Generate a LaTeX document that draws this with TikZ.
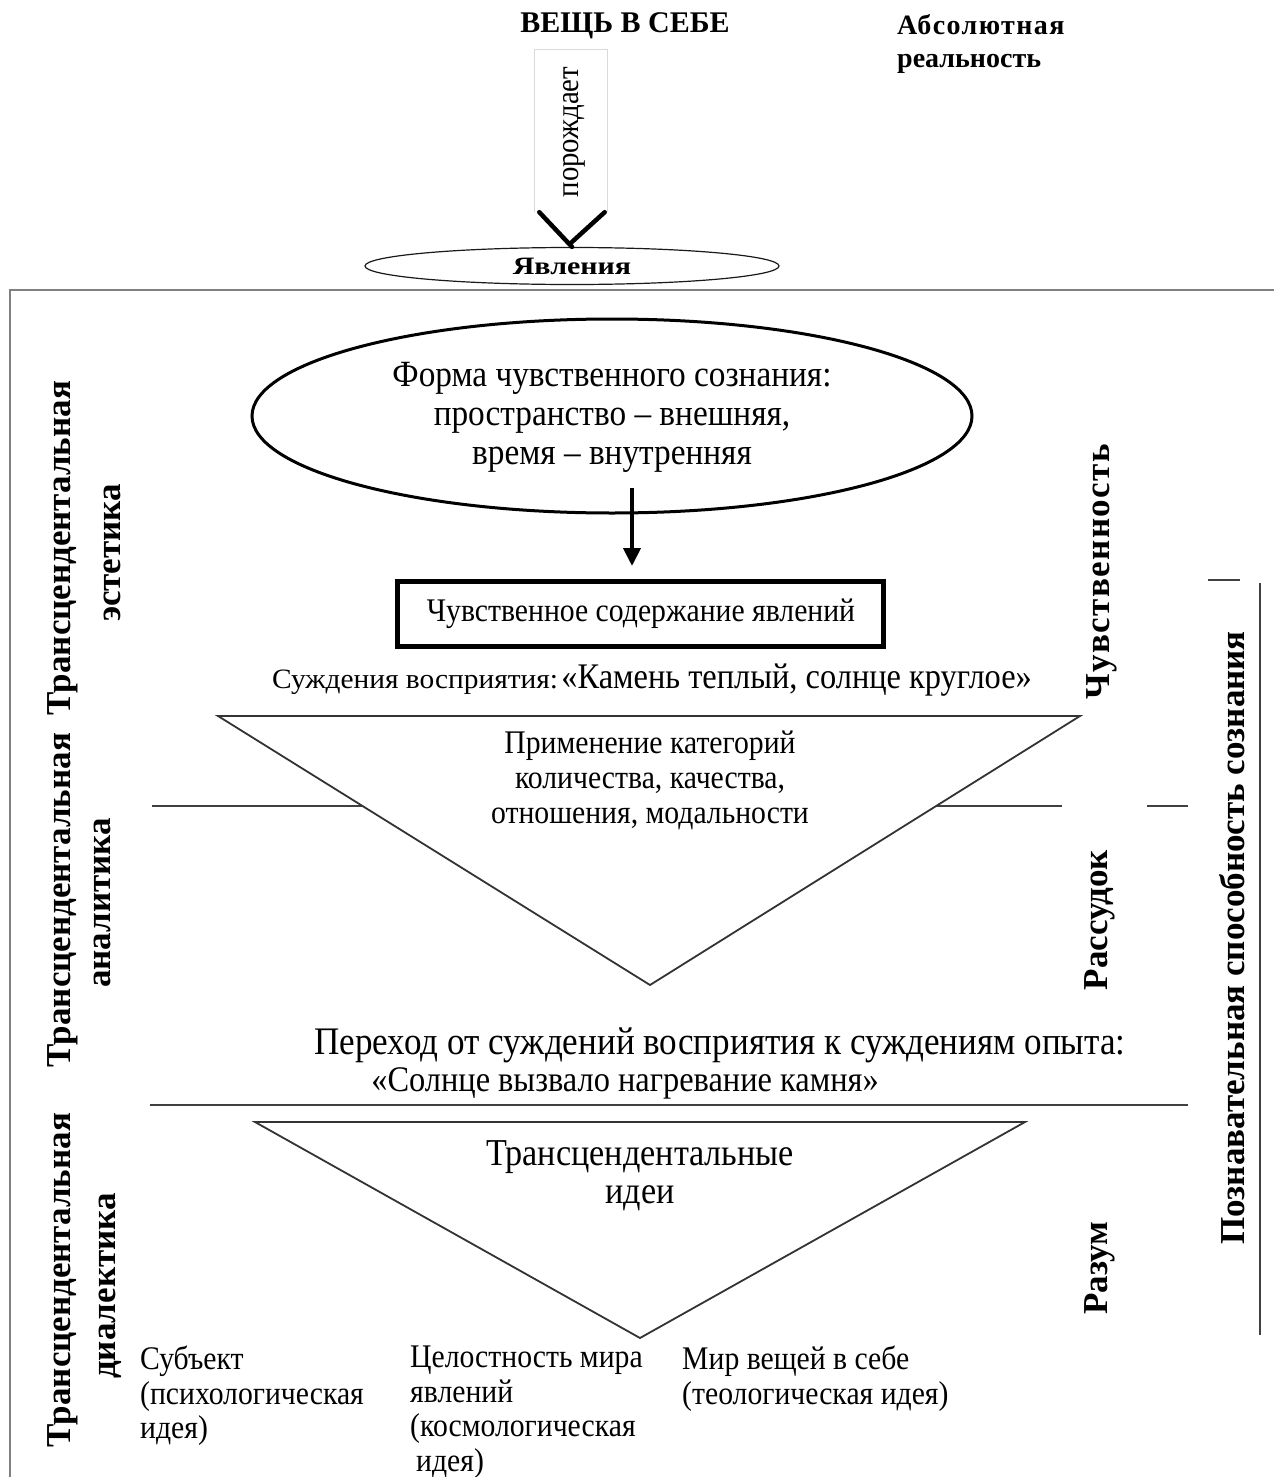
\documentclass[tikz,border=0pt]{standalone}
\usepackage{fontspec}
\setmainfont{Liberation Serif}
\newfontfamily\nar[FakeStretch=0.9,Ligatures=TeX]{Liberation Serif}
\newfontfamily\narw[FakeStretch=1.05,Ligatures=TeX]{Liberation Serif}
\usetikzlibrary{arrows.meta,shapes.geometric,calc}
\tikzset{
  frameline/.style={draw=black!50, line width=2.2pt},
  sepline/.style={draw=black!75, line width=1.6pt},
  triline/.style={draw=black!80, line width=1.8pt, fill=white, line join=miter},
  vlab/.style={rotate=90, font=\bfseries\fontsize{35}{38}\selectfont, inner sep=0pt},
  txt/.style={align=center, inner sep=0pt},
  ltxt/.style={align=left, inner sep=0pt, anchor=north west, font=\nar\fontsize{33}{34.5}\selectfont},
}
\begin{document}
\begin{tikzpicture}[x=1pt,y=-1pt]
\useasboundingbox[fill=white] (0,0) rectangle (1274,1477);
% frame
\draw[frameline] (10,1477) -- (10,290) -- (1274,290);
% top
\node[txt, font=\bfseries\fontsize{30}{34}\selectfont] (thing) at (625,26) {ВЕЩЬ В СЕБЕ};
\node[align=left, inner sep=0pt, anchor=west, font=\bfseries\fontsize{28}{33}\selectfont] (abs) at (897,44) {\addfontfeatures{LetterSpace=5}Абсолютная\\реальность};
\node[minimum width=73pt, minimum height=162pt, inner sep=0pt] (gen) at (571,131) {};
\node[rotate=90, inner sep=0pt, font=\nar\fontsize{32}{34}\selectfont] (genlab) at (574,132) {порождает};
\node[draw=black!90, line width=1.2pt, ellipse, minimum width=414pt, minimum height=37pt, inner sep=0pt] (phen) at (572,266) {};
\node[font=\bfseries\fontsize{25}{28}\selectfont, inner sep=0pt] at (phen.center) {\addfontfeatures{FakeStretch=1.2}Явления};
\draw[draw=black!15, line width=1pt] (gen.south west) -- (gen.north west) -- (gen.north east) -- (gen.south east);
\draw[line width=4.5pt, line cap=round] (gen.south west) ++(5,0) -- (phen.north) ++(0,-5) -- ($(gen.south east)+(-3,0)$);
% form ellipse
\node[draw, line width=3pt, ellipse, minimum width=720pt, minimum height=194pt, inner sep=0pt] (form) at (612,416) {};
\node[txt, font=\nar\fontsize{37}{39}\selectfont] at (612,417) {Форма чувственного сознания:\\пространство – внешняя,\\время – внутренняя};
\coordinate (a1) at (632,488);
\node[draw, line width=5pt, minimum width=486pt, minimum height=65pt, inner sep=0pt] (box) at (640,614) {};
\node[txt, font=\nar\fontsize{33}{36}\selectfont] at (641,614) {Чувственное содержание явлений};
\draw[line width=4pt, -{Triangle[length=18pt,width=17pt]}] (a1) -- ($(a1 |- box.north)+(0,-13)$);
\node[txt] (judg) at (652,680) {{\narw\fontsize{28}{30}\selectfont Суждения восприятия:} {\nar\fontsize{36}{38}\selectfont«Камень теплый, солнце круглое»}};
% separator 1
\draw[sepline] (152,806) -- (1062,806);
\draw[sepline] (1147,806) -- (1188,806);
% triangle 1
\coordinate (t1a) at (218,716);
\coordinate (t1b) at (1080,716);
\coordinate (t1c) at (650,985);
\draw[triline] (t1a) -- (t1b) -- (t1c) -- cycle;
\node[txt, font=\nar\fontsize{33}{35}\selectfont] at (650,780) {Применение категорий\\количества, качества,\\отношения, модальности};
% transition
\node[txt, font=\nar\fontsize{39}{40}\selectfont] (trans) at (720,1045) {Переход от суждений восприятия к суждениям опыта:};
\node[txt, font=\nar\fontsize{36}{38}\selectfont] (trans2) at (625,1083) {«Солнце вызвало нагревание камня»};
\draw[sepline] (150,1105) -- (1188,1105);
% triangle 2
\coordinate (t2a) at (255,1122);
\coordinate (t2b) at (1025,1122);
\coordinate (t2c) at (640,1338);
\draw[triline] (t2a) -- (t2b) -- (t2c) -- cycle;
\node[txt, font=\nar\fontsize{38}{38}\selectfont] at (640,1176) {Трансцендентальные\\идеи};
% ideas
\node[ltxt] (subj) at (140,1346) {Субъект\\(психологическая\\идея)};
\node[ltxt] (world) at (410,1346) {Целостность мира\\явлений\\(космологическая\\\hspace*{6pt}идея)};
\node[ltxt] (god) at (682,1346) {Мир вещей в себе\\(теологическая идея)};
% left labels
\node[vlab] at (63,548) {Трансцендентальная};
\node[vlab] at (112,553) {эстетика};
\node[vlab] at (63,900) {Трансцендентальная};
\node[vlab] at (102,903) {аналитика};
\node[vlab] at (63,1280) {Трансцендентальная};
\node[vlab] at (110,1286) {диалектика};
% right labels
\node[vlab] at (1102,572) {\addfontfeatures{LetterSpace=4}Чувственность};
\node[vlab] at (1100,920) {Рассудок};
\node[vlab] at (1100,1268) {Разум};
\node[vlab] at (1232,938) {Познавательная способность сознания};
\draw[sepline] (1208,580) -- (1240,580);
\draw[sepline] (1260,583) -- (1260,1335);
\end{tikzpicture}
\end{document}
